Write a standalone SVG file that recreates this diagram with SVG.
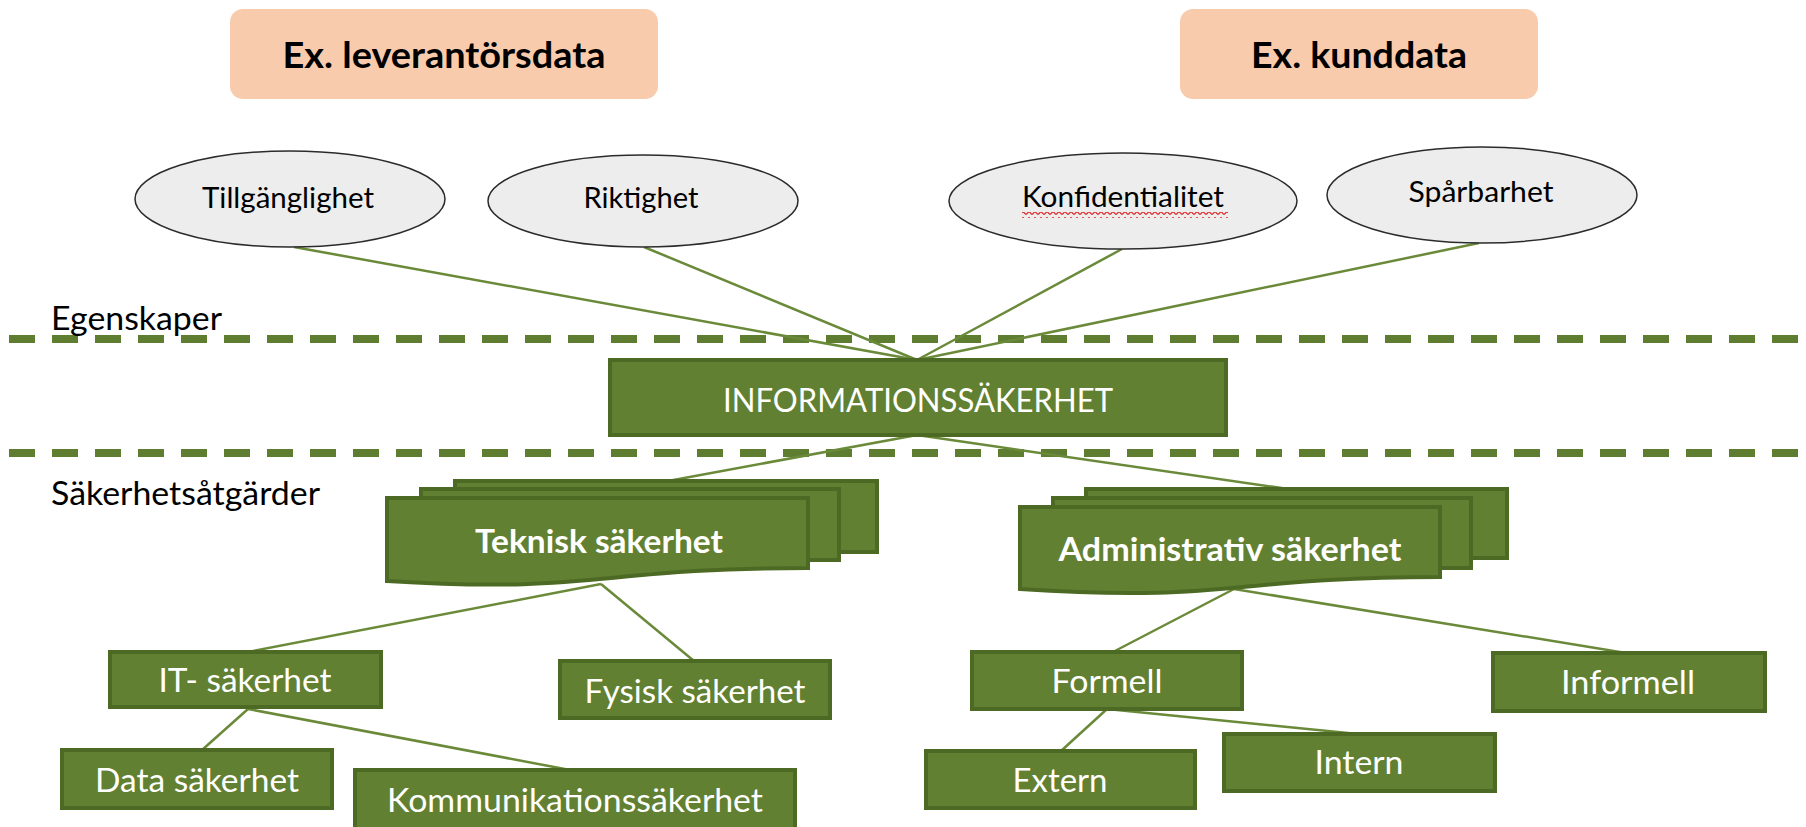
<svg xmlns="http://www.w3.org/2000/svg" width="1806" height="827" viewBox="0 0 1806 827">
<defs>
<style>
.hdr{fill:#F8CBAD}
.hdrt{font-family:Lato,"Liberation Sans",sans-serif;font-weight:bold;font-size:36px;fill:#000;text-anchor:middle}
.ell{fill:#EDEDED;stroke:#2b2b2b;stroke-width:1.5}
.ellt{font-family:Lato,"Liberation Sans",sans-serif;font-size:29px;fill:#000;text-anchor:middle}
.lbl{font-family:Lato,"Liberation Sans",sans-serif;font-size:32px;fill:#000}
.box{fill:#628031;stroke:#4D6A24;stroke-width:4}
.boxt{font-family:Lato,"Liberation Sans",sans-serif;font-size:32px;fill:#fff;text-anchor:middle}
.boldt{font-family:Lato,"Liberation Sans",sans-serif;font-weight:bold;font-size:32px;fill:#fff;text-anchor:middle}
.dash{stroke:#5E7D31;stroke-width:8;stroke-dasharray:26 17;fill:none}
.con{stroke:#6A8A3A;stroke-width:2.5;fill:none}
</style>
<pattern id="squig" x="0" y="0" width="6" height="6" patternUnits="userSpaceOnUse">
<path d="M0,4.5 L3,1.5 L6,4.5" fill="none" stroke="#E02020" stroke-width="1.2"/>
</pattern>
</defs>
<rect width="1806" height="827" fill="#fff"/>

<g id="separators">
<line class="dash" x1="9" y1="339" x2="1800" y2="339"/>
<line class="dash" x1="9" y1="453" x2="1800" y2="453"/>
<text class="lbl" x="51" y="330" textLength="171" lengthAdjust="spacingAndGlyphs">Egenskaper</text>
<text class="lbl" x="51" y="505" textLength="269" lengthAdjust="spacingAndGlyphs">Säkerhetsåtgärder</text>
</g>

<g id="connectors">
<line class="con" x1="294" y1="247" x2="917" y2="360"/>
<line class="con" x1="644" y1="247" x2="917" y2="360"/>
<line class="con" x1="1122" y1="249" x2="917" y2="360"/>
<line class="con" x1="1479" y1="243" x2="917" y2="360"/>
<line class="con" x1="917" y1="435" x2="668" y2="481"/>
<line class="con" x1="917" y1="435" x2="1295" y2="490"/>
<line class="con" x1="601" y1="584" x2="253" y2="651"/>
<line class="con" x1="601" y1="584" x2="694" y2="661"/>
<line class="con" x1="248" y1="709" x2="202" y2="750"/>
<line class="con" x1="248" y1="709" x2="570" y2="770"/>
<line class="con" x1="1234" y1="589" x2="1113" y2="652"/>
<line class="con" x1="1234" y1="589" x2="1626" y2="653"/>
<line class="con" x1="1107" y1="709" x2="1061" y2="751"/>
<line class="con" x1="1107" y1="709" x2="1358" y2="734"/>
</g>

<g id="ex-leverantorsdata">
<rect class="hdr" x="230" y="9" width="428" height="90" rx="13"/>
<text class="hdrt" x="444" y="68" textLength="323" lengthAdjust="spacingAndGlyphs">Ex. leverantörsdata</text>
</g>
<g id="ex-kunddata">
<rect class="hdr" x="1180" y="9" width="358" height="90" rx="13"/>
<text class="hdrt" x="1359" y="68" textLength="216" lengthAdjust="spacingAndGlyphs">Ex. kunddata</text>
</g>

<g id="tillganglighet">
<ellipse class="ell" cx="290" cy="199" rx="155" ry="48"/>
<text class="ellt" x="288" y="208" textLength="172" lengthAdjust="spacingAndGlyphs">Tillgänglighet</text>
</g>
<g id="riktighet">
<ellipse class="ell" cx="643" cy="201" rx="155" ry="46"/>
<text class="ellt" x="641" y="208" textLength="115" lengthAdjust="spacingAndGlyphs">Riktighet</text>
</g>
<g id="konfidentialitet">
<ellipse class="ell" cx="1123" cy="201" rx="174" ry="48"/>
<text class="ellt" x="1123" y="207" textLength="202" lengthAdjust="spacingAndGlyphs">Konfidentialitet</text>
<rect x="1022" y="212" width="206" height="6" fill="url(#squig)"/>
</g>
<g id="sparbarhet">
<ellipse class="ell" cx="1482" cy="195" rx="155" ry="48"/>
<text class="ellt" x="1481" y="202" textLength="145" lengthAdjust="spacingAndGlyphs">Spårbarhet</text>
</g>

<g id="informationssakerhet">
<rect class="box" x="610" y="360" width="616" height="75"/>
<text class="boxt" x="918" y="412" textLength="390" lengthAdjust="spacingAndGlyphs">INFORMATIONSSÄKERHET</text>
</g>

<g id="teknisk-sakerhet">
<rect class="box" x="455" y="481" width="422" height="71"/>
<rect class="box" x="421" y="489" width="418" height="71"/>
<path class="box" d="M387,498 H808 V568 C597,568 597,594 387,581 Z"/>
<text class="boldt" x="599" y="553" textLength="248" lengthAdjust="spacingAndGlyphs">Teknisk säkerhet</text>
</g>

<g id="administrativ-sakerhet">
<rect class="box" x="1086" y="489" width="421" height="69"/>
<rect class="box" x="1053" y="498" width="418" height="70"/>
<path class="box" d="M1020,507 H1440 V577 C1230,577 1230,603 1020,589 Z"/>
<text class="boldt" x="1230" y="561" textLength="343" lengthAdjust="spacingAndGlyphs">Administrativ säkerhet</text>
</g>

<g id="it-sakerhet">
<rect class="box" x="110" y="652" width="271" height="55"/>
<text class="boxt" x="245" y="692" textLength="173" lengthAdjust="spacingAndGlyphs">IT- säkerhet</text>
</g>
<g id="fysisk-sakerhet">
<rect class="box" x="560" y="661" width="270" height="57"/>
<text class="boxt" x="695" y="703" textLength="221" lengthAdjust="spacingAndGlyphs">Fysisk säkerhet</text>
</g>
<g id="data-sakerhet">
<rect class="box" x="62" y="750" width="270" height="58"/>
<text class="boxt" x="197" y="792" textLength="204" lengthAdjust="spacingAndGlyphs">Data säkerhet</text>
</g>
<g id="kommunikationssakerhet">
<rect class="box" x="355" y="770" width="440" height="62"/>
<text class="boxt" x="575" y="812" textLength="376" lengthAdjust="spacingAndGlyphs">Kommunikationssäkerhet</text>
</g>
<g id="formell">
<rect class="box" x="972" y="652" width="270" height="57"/>
<text class="boxt" x="1107" y="693" textLength="111" lengthAdjust="spacingAndGlyphs">Formell</text>
</g>
<g id="informell">
<rect class="box" x="1493" y="653" width="272" height="58"/>
<text class="boxt" x="1628" y="694" textLength="134" lengthAdjust="spacingAndGlyphs">Informell</text>
</g>
<g id="extern">
<rect class="box" x="926" y="751" width="269" height="57"/>
<text class="boxt" x="1060" y="792" textLength="95" lengthAdjust="spacingAndGlyphs">Extern</text>
</g>
<g id="intern">
<rect class="box" x="1224" y="734" width="271" height="57"/>
<text class="boxt" x="1359" y="774" textLength="89" lengthAdjust="spacingAndGlyphs">Intern</text>
</g>
</svg>
